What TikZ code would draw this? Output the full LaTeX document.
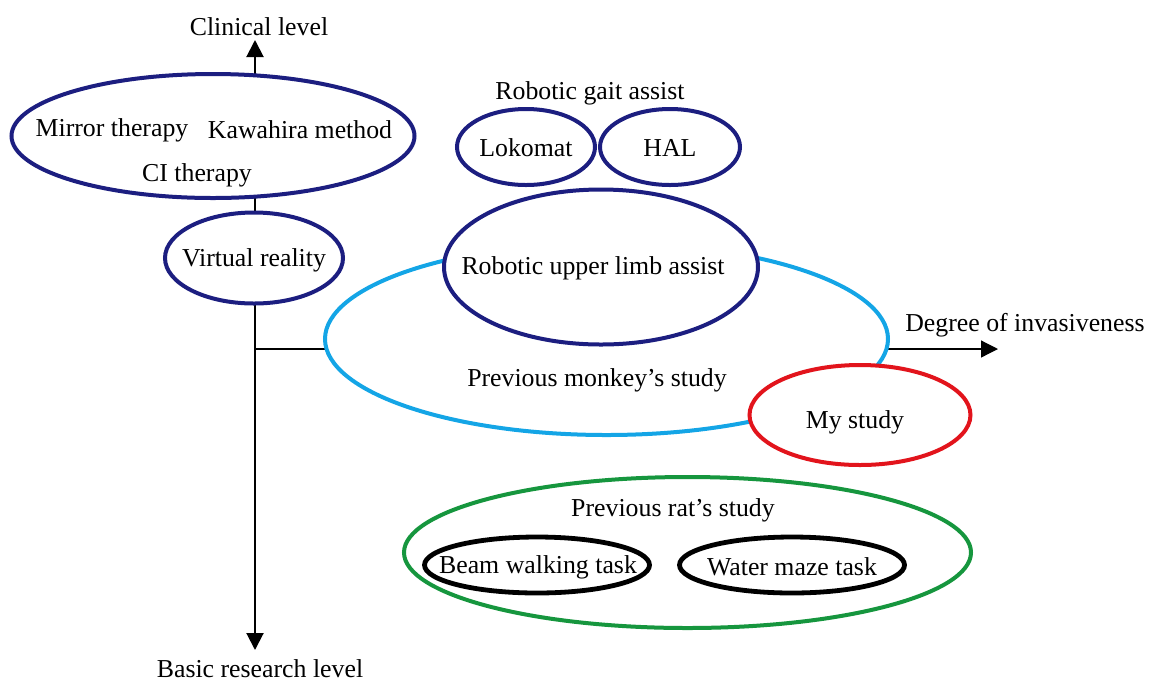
\documentclass[tikz,border=0pt]{standalone}
\usepackage{fontspec}
\setmainfont{Liberation Serif}
\usetikzlibrary{shapes.geometric,arrows.meta}
\definecolor{navy}{RGB}{28,30,128}
\definecolor{skyline}{RGB}{20,165,230}
\definecolor{redline}{RGB}{226,20,28}
\definecolor{greenline}{RGB}{22,150,62}
\begin{document}
\begin{tikzpicture}[x=0.5pt,y=-0.5pt,
  every node/.style={font=\fontsize{12.9pt}{15pt}\selectfont, inner sep=0pt},
  txt/.style={},
  oval/.style={ellipse, fill=white, line width=2pt, inner sep=0pt},
  navyoval/.style={oval, draw=navy},
  skyoval/.style={oval, draw=skyline},
  redoval/.style={oval, draw=redline},
  greenoval/.style={oval, draw=greenline},
  taskoval/.style={oval, draw=black, line width=2.4pt},
  axis/.style={-{Triangle[length=8.5pt,width=8.5pt]}, black}]
\useasboundingbox (0,0) rectangle (1152,682);

% axes
\coordinate (origin) at (255,349);
\coordinate (clin) at (255,40);
\coordinate (basic) at (255,650);
\coordinate (inv) at (998,349);
\draw[axis, line width=1pt] (origin) -- (clin);
\draw[axis, line width=1pt] (origin) -- (basic);
\draw[axis, line width=0.6pt] (origin) -- (inv);

% axis labels
\node[txt] (lclin) at (259,27) {Clinical level};
\node[txt] (lbasic) at (260,669) {Basic research level};
\node[txt] (linv) at (1025,325) {Degree of invasiveness};

% clinical methods
\node[navyoval, minimum width=201.5pt, minimum height=62pt] (clinical) at (213,136) {};
\node[txt] (mirror) at (112,130) {Mirror therapy};
\node[txt] (kawa) at (300,130) {Kawahira method};
\node[txt] (ci) at (197,175) {CI therapy};
\node[navyoval, minimum width=89pt, minimum height=45.5pt] (vr) at (254,258) {};
\node[txt] (lvr) at (254,260) {Virtual reality};

% monkey studies
\node[skyoval, minimum width=281.5pt, minimum height=96pt] (monkey) at (606.5,339) {};
\node[txt] (lmonkey) at (597,380) {Previous monkey’s study};
\node[navyoval, minimum width=157pt, minimum height=77.5pt] (upper) at (601,267) {};
\node[txt] (lupper) at (593,268) {Robotic upper limb assist};

% robotic gait
\node[txt] (lgait) at (590,93) {Robotic gait assist};
\node[navyoval, minimum width=69pt, minimum height=38pt] (loko) at (526,147) {};
\node[txt] (lloko) at (526,148) {Lokomat};
\node[navyoval, minimum width=70pt, minimum height=38pt] (hal) at (670,147) {};
\node[txt] (lhal) at (670,148) {HAL};

% own study
\node[redoval, minimum width=110.5pt, minimum height=50pt] (my) at (860,415) {};
\node[txt] (lmy) at (855,422) {My study};

% rat studies
\node[greenoval, minimum width=283.5pt, minimum height=75.5pt] (rat) at (687.5,552.5) {};
\node[txt] (lrat) at (673,510) {Previous rat’s study};
\node[taskoval, minimum width=112.5pt, minimum height=28pt] (beam) at (537,565) {};
\node[txt] (lbeam) at (538,567) {Beam walking task};
\node[taskoval, minimum width=112.5pt, minimum height=28pt] (water) at (792,565) {};
\node[txt] (lwater) at (792,567) {Water maze task};
\end{tikzpicture}
\end{document}
